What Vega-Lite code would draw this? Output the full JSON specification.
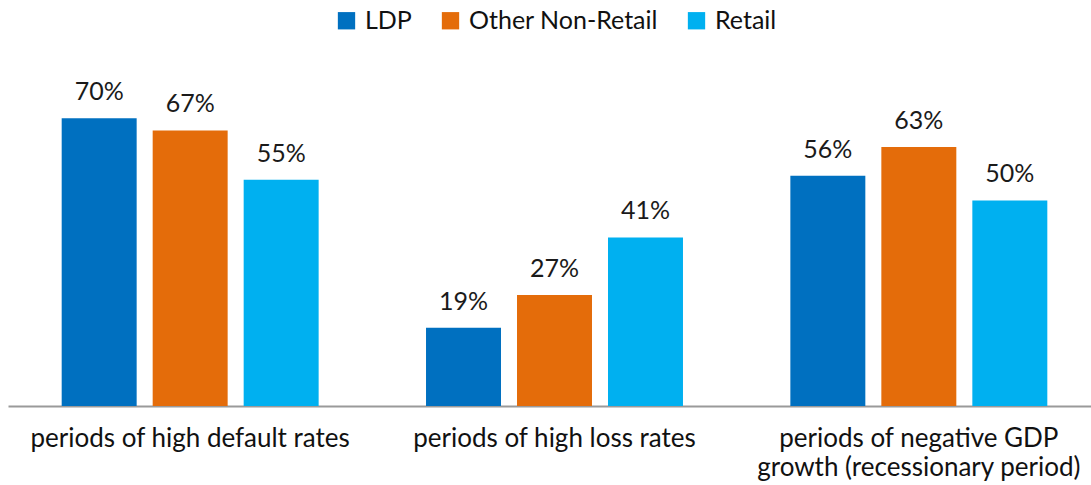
{
  "$schema": "https://vega.github.io/schema/vega-lite/v6.json",
  "autosize": {"type": "none"},
  "width": 1093,
  "height": 329,
  "padding": {"left": 8, "top": 77, "right": 0, "bottom": 79},
  "background": "white",
  "config": {
    "view": {"stroke": null},
    "font": "Lato",
    "text": {"font": "Lato"}
  },
  "data": {
    "values": [
      {"period": "periods of high default rates", "series": "LDP", "value": 0.70},
      {"period": "periods of high default rates", "series": "Other Non-Retail", "value": 0.67},
      {"period": "periods of high default rates", "series": "Retail", "value": 0.55},
      {"period": "periods of high loss rates", "series": "LDP", "value": 0.19},
      {"period": "periods of high loss rates", "series": "Other Non-Retail", "value": 0.27},
      {"period": "periods of high loss rates", "series": "Retail", "value": 0.41},
      {"period": "periods of negative GDP|growth (recessionary period)", "series": "LDP", "value": 0.56},
      {"period": "periods of negative GDP|growth (recessionary period)", "series": "Other Non-Retail", "value": 0.63},
      {"period": "periods of negative GDP|growth (recessionary period)", "series": "Retail", "value": 0.50}
    ]
  },
  "encoding": {
    "x": {
      "field": "period",
      "type": "nominal",
      "sort": null,
      "scale": {"paddingInner": 0, "paddingOuter": 0},
      "axis": {
        "title": null,
        "labelAngle": 0,
        "labelExpr": "split(datum.label, '|')",
        "labelFontSize": 26,
        "labelColor": "#111111",
        "labelPadding": 19,
        "labelLineHeight": 29,
        "ticks": false,
        "domainColor": "#9a9a9a",
        "domainWidth": 2,
        "labelLimit": 500
      }
    },
    "xOffset": {
      "field": "series",
      "type": "nominal",
      "scale": {"paddingInner": 0.176, "paddingOuter": 0.59}
    },
    "y": {
      "field": "value",
      "type": "quantitative",
      "scale": {"domain": [0, 0.8]},
      "axis": null
    }
  },
  "layer": [
    {
      "mark": {"type": "bar"},
      "encoding": {
        "color": {
          "field": "series",
          "type": "nominal",
          "scale": {
            "domain": ["LDP", "Other Non-Retail", "Retail"],
            "range": ["#0070C0", "#E46C0A", "#00B0F0"]
          },
          "legend": {
            "title": null,
            "orient": "none",
            "direction": "horizontal",
            "legendX": 326,
            "legendY": -69,
            "symbolType": "square",
            "symbolSize": 300,
            "symbolStrokeWidth": 0,
            "labelFontSize": 25,
            "labelColor": "#111111",
            "labelOffset": 6,
            "labelLimit": 400,
            "columnPadding": 26
          }
        }
      }
    },
    {
      "mark": {"type": "text", "baseline": "bottom", "dy": -13, "fontSize": 25, "color": "#1a1a1a"},
      "encoding": {
        "text": {"field": "value", "type": "quantitative", "format": ".0%"},
        "detail": {"field": "series"}
      }
    }
  ]
}
